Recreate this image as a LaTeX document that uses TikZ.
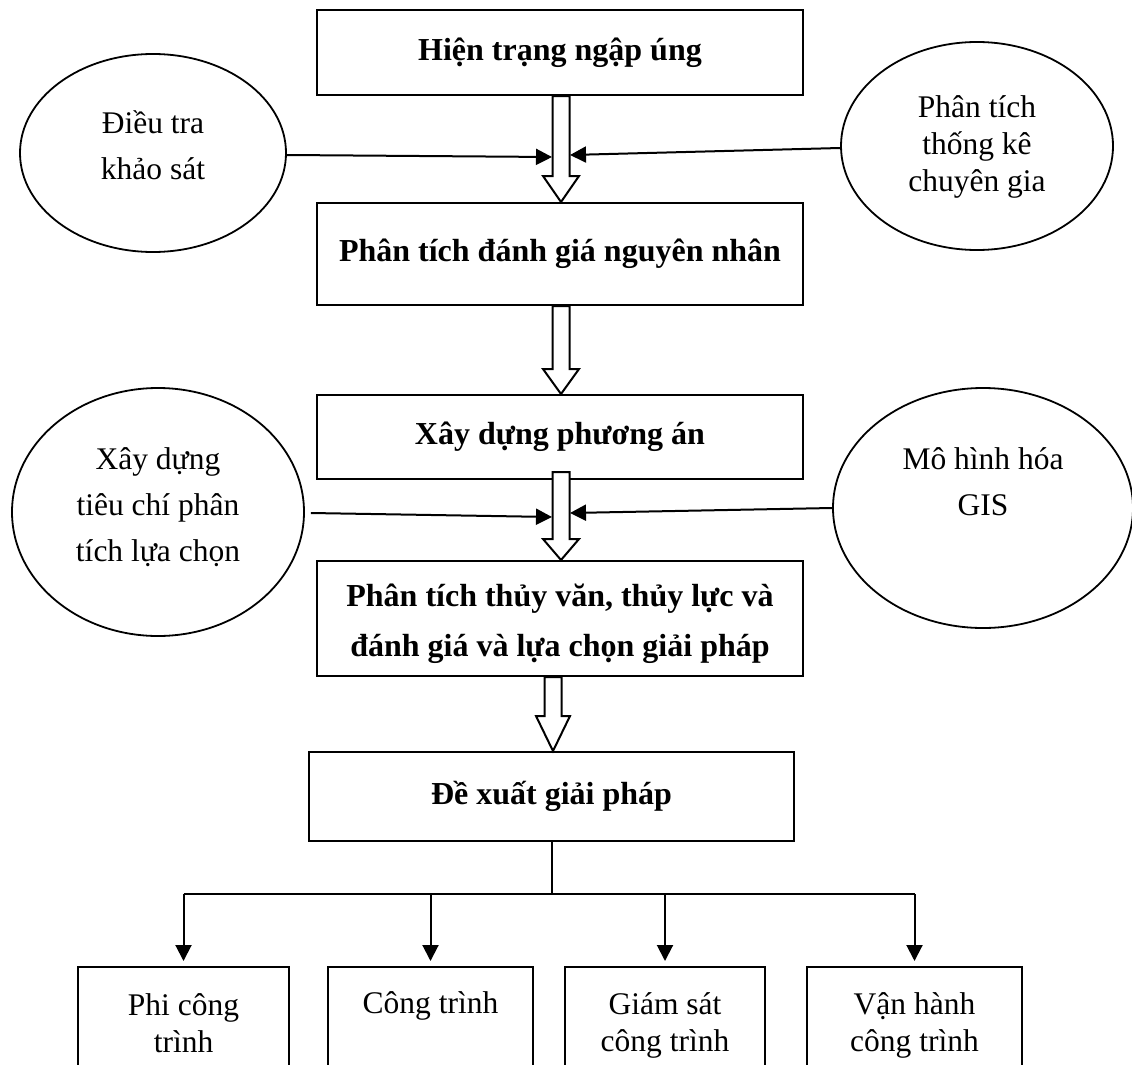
\documentclass[tikz,border=0pt]{standalone}
\usepackage{fontspec}
\setmainfont{Liberation Serif}
\usetikzlibrary{arrows.meta,shapes.geometric,calc}
\begin{document}
\begin{tikzpicture}[x=1pt,y=-1pt,
  box/.style={draw, line width=2pt, inner sep=0pt, font=\bfseries\fontsize{32}{50}\selectfont, align=center},
  ell/.style={draw, ellipse, line width=1.8pt, inner sep=0pt},
  txt/.style={font=\fontsize{31.5}{46}\selectfont, align=center, inner sep=0pt},
  txtb/.style={font=\fontsize{31.5}{37}\selectfont, align=center, inner sep=0pt},
  arr/.style={line width=2pt, -{Triangle[length=16pt,width=16pt]}},
  blk/.style={draw, fill=white, line width=2pt, line join=miter},
  plain/.style={line width=2pt},
]
\useasboundingbox (0,0) rectangle (1132,1065);
\clip (0,0) rectangle (1132,1065);

% main boxes
\node[box, minimum width=486pt, minimum height=85pt] (b1) at (560,52.5) {Hiện trạng ngập úng};
\node[box, minimum width=486pt, minimum height=102pt] (b2) at (560,254) {Phân tích đánh giá nguyên nhân};
\node[box, minimum width=486pt, minimum height=84pt] (b3) at (560,437) {Xây dựng phương án};
\node[box, minimum width=486pt, minimum height=115pt] (b4) at (560,618.5) {};
\node[box, draw=none] (b4t) at (560,624) {Phân tích thủy văn, thủy lực và\\đánh giá và lựa chọn giải pháp};
\node[box, minimum width=485pt, minimum height=89pt] (b5) at (551.5,796.5) {Đề xuất giải pháp};

% ellipses
\node[ell, minimum width=266pt, minimum height=198pt] (e1) at (153,153) {};
\node[txt] (e1t) at (153,145) {Điều tra\\khảo sát};
\node[ell, minimum width=272pt, minimum height=208pt] (e2) at (977,146) {};
\node[txtb] (e2t) at (977,147) {Phân tích\\thống kê\\chuyên gia};
\node[ell, minimum width=292pt, minimum height=248pt] (e3) at (158,512) {};
\node[txt] (e3t) at (158,507) {Xây dựng\\tiêu chí phân\\tích lựa chọn};
\node[ell, minimum width=300pt, minimum height=240pt] (e4) at (983,508) {};
\node[txt] (e4t) at (983,482) {Mô hình hóa\\GIS};

% block arrows
\coordinate (ax) at (561,0);
\coordinate (ax4) at (553,0);
\newcommand\blkarrow[4]{%
  \draw[blk] let \p1=#1, \p2=#2 in
    (\x1-8.5pt,\y1) -- (\x1-8.5pt,\y2+#3) -- (\x1-#4,\y2+#3) -- (\x1,\y2)
    -- (\x1+#4,\y2+#3) -- (\x1+8.5pt,\y2+#3) -- (\x1+8.5pt,\y1) -- cycle;}
\blkarrow{(b1.south -| ax)}{(b2.north -| ax)}{26pt}{18pt}
\blkarrow{(b2.south -| ax)}{(b3.north -| ax)}{25pt}{18pt}
\blkarrow{($(b3.south -| ax)+(0,-8)$)}{(b4.north -| ax)}{21pt}{18pt}
\blkarrow{(b4.south -| ax4)}{(b5.north -| ax4)}{35pt}{17pt}

% side arrows
\coordinate (t1l) at (552,157);
\coordinate (t1r) at (570,155);
\coordinate (t3l) at (552,517);
\coordinate (t3r) at (570,513);
\draw[arr] ($(e1.east)+(0,2)$) -- (t1l);
\draw[arr] ($(e2.west)+(0,2)$) -- (t1r);
\draw[arr] ($(e3.east)+(6,1)$) -- (t3l);
\draw[arr] (e4.west) -- (t3r);

% bottom boxes
\node[draw, line width=2pt, minimum width=211pt, minimum height=133pt] (p1) at (183.5,1033.5) {};
\node[draw, line width=2pt, minimum width=205pt, minimum height=133pt] (p2) at (430.5,1033.5) {};
\node[draw, line width=2pt, minimum width=200pt, minimum height=133pt] (p3) at (665,1033.5) {};
\node[draw, line width=2pt, minimum width=215pt, minimum height=133pt] (p4) at (914.5,1033.5) {};
\node[txtb] (p1t) at (183.5,1023.5) {Phi công\\trình};
\node[txtb] (p2t) at (430.5,1006) {Công trình};
\node[txtb] (p3t) at (665,1025) {Giám sát\\công trình};
\node[txtb] (p4t) at (914.5,1025) {Vận hành\\công trình};

% tree connectors
\coordinate (jn) at (552,894);
\draw[plain] (b5.south -| jn) -- (jn);
\draw[plain] (p1.north |- jn) -- (p4.north |- jn);
\foreach \p in {p1,p2,p3,p4}
  \draw[arr, shorten >=5pt] (\p.north |- jn) -- (\p.north);
\end{tikzpicture}
\end{document}
